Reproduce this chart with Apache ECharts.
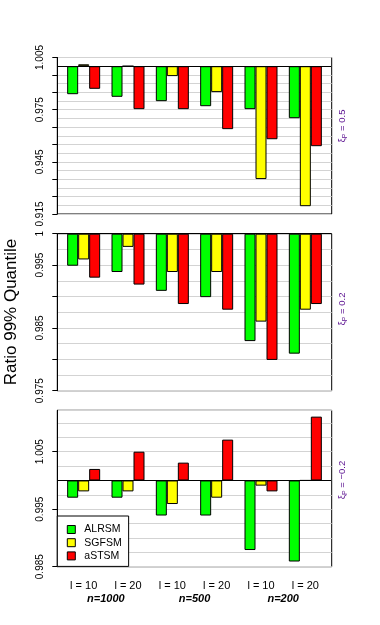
<!DOCTYPE html>
<html>
<head>
<meta charset="utf-8">
<script src="https://cdn.jsdelivr.net/npm/echarts@6/dist/echarts.min.js"></script>
<style>html,body{margin:0;padding:0;background:#fff}#main{width:380px;height:625px}</style>
</head>
<body>
<div id="main"></div>
<script>
// categories
const groups = ['l = 10', 'l = 20', 'l = 10', 'l = 20', 'l = 10', 'l = 20']
const sizes = ['n=1000', 'n=500', 'n=200']
const methods = ['ALRSM', 'SGFSM', 'aSTSM']
const colors = ['#00ff00', '#ffff00', '#ff0000']

// xi_P = 0.5
const alrsm1 = [0.9839, 0.9824, 0.9799, 0.9770, 0.9753, 0.9701]
const sgfsm1 = [1.0011, 1.0000, 0.9943, 0.9851, 0.9351, 0.9195]
const astsm1 = [0.9870, 0.9753, 0.9753, 0.9638, 0.9580, 0.9540]
// xi_P = 0.2
const alrsm2 = [0.9949, 0.9939, 0.9909, 0.9899, 0.9829, 0.9809]
const sgfsm2 = [0.9959, 0.9979, 0.9939, 0.9939, 0.9860, 0.9879]
const astsm2 = [0.9930, 0.9919, 0.9888, 0.9879, 0.9799, 0.9888]
// xi_P = -0.2
const alrsm3 = [0.9970, 0.9970, 0.9939, 0.9939, 0.9879, 0.9859]
const sgfsm3 = [0.9981, 0.9981, 0.9959, 0.9970, 0.9991, 1.0000]
const astsm3 = [1.0020, 1.0050, 1.0031, 1.0071, 0.9981, 1.0111]

// y ticks / labels
const ticks1 = [0.915, 0.925, 0.935, 0.945, 0.955, 0.965, 0.975, 0.985, 0.995, 1.005]
const labels1 = [0.915, 0.945, 0.975, 1.005]
const ticks2 = [0.975, 0.98, 0.985, 0.99, 0.995, 1]
const labels2 = [0.975, 0.985, 0.995, 1]
const ticks3 = [0.985, 0.995, 1.005]
const labels3 = [0.985, 0.995, 1.005]

// bars hang from 1, so plot (v-1) in thousandths
const off = v => Math.round((v - 1) * 1e5) / 100
const fmt = v => {
    const r = Math.round((1 + v / 1000) * 1e5) / 1e5
    return r === 1 ? '1' : r.toFixed(3)
}

const panels = [
    {top: 57.5, height: 156.5, min: 0.915, max: 1.005, step: 5, ticks: ticks1, labels: labels1, data: [alrsm1, sgfsm1, astsm1], xi: '0.5', tagY: 126},
    {top: 233.7, height: 157, min: 0.975, max: 1.0, step: 2.5, ticks: ticks2, labels: labels2, data: [alrsm2, sgfsm2, astsm2], xi: '0.2', tagY: 309},
    {top: 410.3, height: 156.4, min: 0.985, max: 1.0122, step: 2.5, ticks: ticks3, labels: labels3, data: [alrsm3, sgfsm3, astsm3], xi: '\u22120.2', tagY: 480}
]

const FONT = '"Liberation Sans", Arial, sans-serif'
const grid = [], xAxis = [], yAxis = [], series = [], graphic = []

panels.forEach((p, i) => {
    // frame grid (box, ticks, grid lines) and inner grid for the bars
    grid.push({left: 57.3, width: 274.4, top: p.top, height: p.height, show: true,
        borderColor: '#000', borderWidth: 1, backgroundColor: 'transparent'})
    grid.push({left: 61.5, width: 266, top: p.top, height: p.height})

    xAxis.push({gridIndex: 2 * i, type: 'value', min: 0, max: 1, show: false})
    xAxis.push({gridIndex: 2 * i + 1, type: 'category', data: groups, show: i === 2,
        axisLine: {show: false}, axisTick: {show: false},
        axisLabel: {margin: 14, fontSize: 11, color: '#000', fontFamily: FONT}})

    const mn = off(p.min), mx = off(p.max)
    yAxis.push({gridIndex: 2 * i, type: 'value', min: mn, max: mx, position: 'left',
        splitLine: {show: false},
        axisLine: {show: true, lineStyle: {color: '#000', width: 1}},
        axisTick: {show: true, length: 5, customValues: p.ticks.map(off), lineStyle: {color: '#000'}},
        axisLabel: {customValues: p.labels.map(off), rotate: 90, margin: 12, fontSize: 10,
            color: '#000', fontFamily: FONT, formatter: fmt}})
    yAxis.push({gridIndex: 2 * i, type: 'value', min: mn, max: mx, interval: p.step,
        axisLine: {show: false}, axisTick: {show: false}, axisLabel: {show: false},
        splitLine: {show: true, lineStyle: {color: '#d3d3d3', width: 1}}})
    yAxis.push({gridIndex: 2 * i + 1, type: 'value', min: mn, max: mx, show: false, splitLine: {show: false}})

    // reference line at ratio 1
    series.push({type: 'line', xAxisIndex: 2 * i, yAxisIndex: 3 * i, data: [], silent: true,
        markLine: {silent: true, symbol: 'none', label: {show: false}, z: 10,
            lineStyle: {color: '#000', width: 1, type: 'solid'}, data: [{yAxis: 0}]}})

    p.data.forEach((arr, k) => {
        series.push({type: 'bar', name: methods[k], xAxisIndex: 2 * i + 1, yAxisIndex: 3 * i + 2,
            data: arr.map(off), barWidth: 11, barGap: '0%',
            itemStyle: {color: colors[k], borderColor: '#000', borderWidth: 1}})
    })

    graphic.push({type: 'text', x: 342.5, y: p.tagY, rotation: Math.PI / 2,
        style: {text: '{a|\u03be}{s|P}{a| = ' + p.xi + '}', align: 'center', verticalAlign: 'middle',
            fill: '#5a1090', fontFamily: FONT,
            rich: {a: {fontSize: 9.5, fill: '#5a1090', fontFamily: FONT},
                   s: {fontSize: 7, fill: '#5a1090', fontFamily: FONT, padding: [5, 0, 0, 0]}}}})
})

// sample size row under the l labels
xAxis.push({gridIndex: 5, type: 'category', data: sizes, position: 'bottom', offset: 13,
    axisLine: {show: false}, axisTick: {show: false},
    axisLabel: {margin: 14, fontSize: 11, color: '#000', fontStyle: 'italic', fontWeight: 'bold', fontFamily: FONT}})

graphic.push({type: 'text', x: 11.5, y: 312, rotation: Math.PI / 2,
    style: {text: 'Ratio 99% Quantile', fontSize: 17, fill: '#000', fontFamily: FONT,
        align: 'center', verticalAlign: 'middle'}})

const chart = echarts.init(document.getElementById('main'), null, {renderer: 'canvas'})
chart.setOption({
    animation: false,
    backgroundColor: '#fff',
    textStyle: {fontFamily: FONT},
    grid: grid,
    xAxis: xAxis,
    yAxis: yAxis,
    series: series,
    graphic: graphic,
    legend: {
        data: methods, orient: 'vertical', left: 57.3, top: 516, icon: 'rect',
        itemWidth: 8, itemHeight: 8, itemGap: 0.2,
        backgroundColor: '#fff', borderColor: '#000', borderWidth: 1, borderRadius: 0,
        padding: [7, 7, 4, 9.5],
        itemStyle: {borderColor: '#000', borderWidth: 1},
        textStyle: {fontSize: 10.5, color: '#000', lineHeight: 13, padding: [0, 0, 0, 4], fontFamily: FONT}
    }
})
</script>
</body>
</html>
